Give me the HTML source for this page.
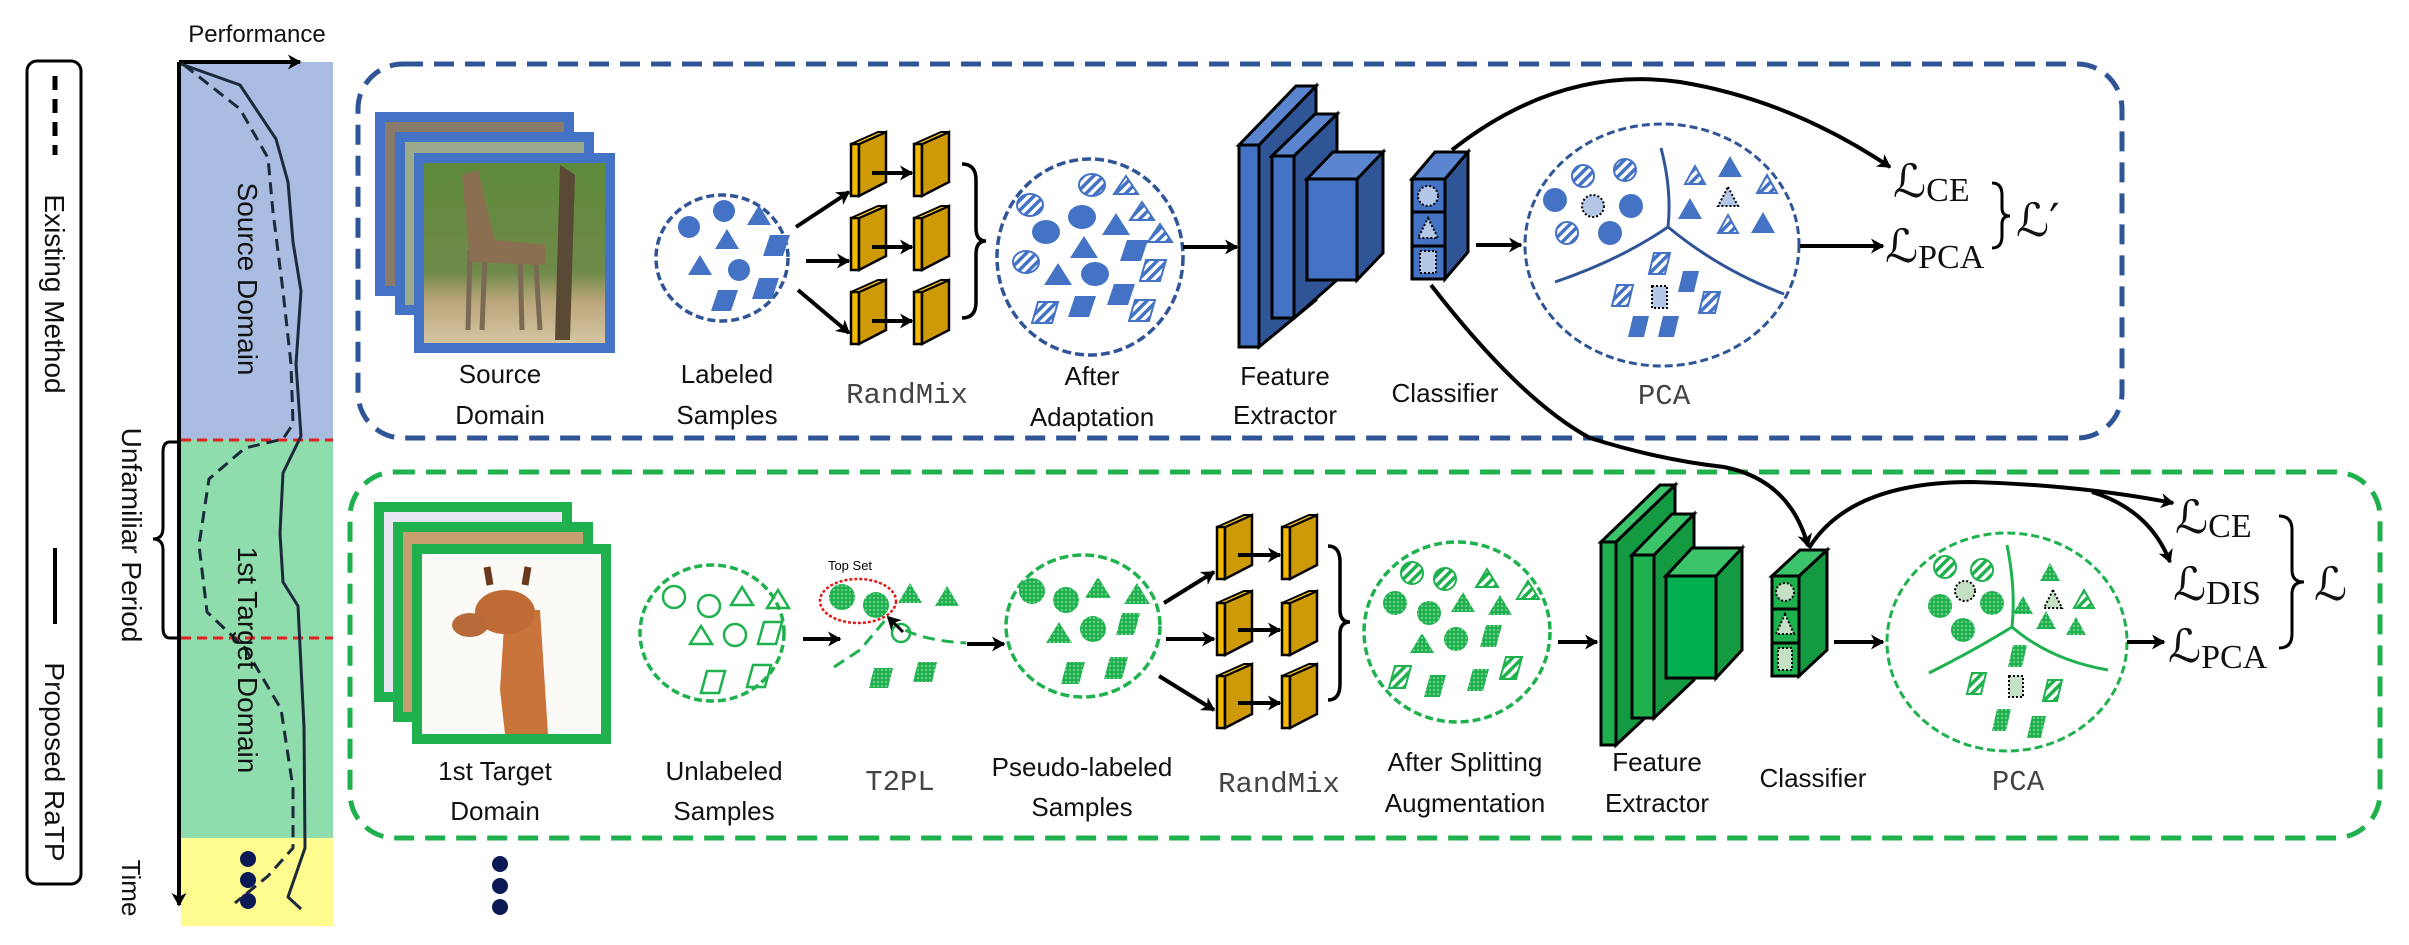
<!DOCTYPE html>
<html><head><meta charset="utf-8"><style>
html,body{margin:0;padding:0;background:#fff;}
svg{display:block;}
.t{font-family:"Liberation Sans",sans-serif;font-size:26px;fill:#111;text-anchor:middle;}
.m{font-family:"Liberation Mono",monospace;font-size:29px;fill:#444;text-anchor:middle;}
.L{font-family:"DejaVu Serif","Liberation Serif",serif;font-size:46px;fill:#111;}
.s{font-family:"Liberation Serif",serif;font-size:34px;}
</style></head><body>
<svg width="2409" height="945" viewBox="0 0 2409 945" xmlns="http://www.w3.org/2000/svg">
<defs>
<marker id="ar" viewBox="0 0 12 12" refX="10" refY="6" markerWidth="9" markerHeight="9" markerUnits="userSpaceOnUse" orient="auto" style="overflow:visible">
<path d="M-6,-4 L12,6 L-6,16 L-1,6 z" fill="#000"/></marker>
<pattern id="hb" width="7" height="7" patternUnits="userSpaceOnUse" patternTransform="rotate(45)"><rect width="7" height="7" fill="#fff"/><rect width="3.5" height="7" fill="#4472c4"/></pattern>
<pattern id="hg" width="7" height="7" patternUnits="userSpaceOnUse" patternTransform="rotate(45)"><rect width="7" height="7" fill="#fff"/><rect width="3.5" height="7" fill="#1fb14e"/></pattern>
<pattern id="dg" width="4" height="4" patternUnits="userSpaceOnUse"><rect width="4" height="4" fill="#1fb14e"/><circle cx="2" cy="2" r="0.9" fill="#9fe0b0"/></pattern>
<linearGradient id="ph" x1="0" y1="0" x2="0" y2="1"><stop offset="0" stop-color="#5d8a3a"/><stop offset="0.6" stop-color="#6f8a4a"/><stop offset="0.75" stop-color="#b9a57a"/><stop offset="1" stop-color="#d8c9a6"/></linearGradient>
<g id="yb"><polygon points="0,12 8,12 8,64 0,64" fill="#f5b800" stroke="#000" stroke-width="2.5"/><polygon points="8,12 35,0 35,50 8,64" fill="#cf9a08" stroke="#000" stroke-width="2.5"/><polygon points="0,12 27,0 35,0 8,12" fill="#f5c030" stroke="#000" stroke-width="2"/></g>
</defs>

<!-- legend -->
<rect x="27" y="61" width="54" height="823" rx="10" fill="none" stroke="#000" stroke-width="3"/>
<line x1="55" y1="76" x2="55" y2="155" stroke="#000" stroke-width="5" stroke-dasharray="14 9"/>
<line x1="55" y1="548" x2="55" y2="624" stroke="#000" stroke-width="4"/>
<text class="t" transform="translate(45,294) rotate(90)" style="font-size:28px">Existing Method</text>
<text class="t" transform="translate(45,762) rotate(90)" style="font-size:28px">Proposed RaTP</text>

<!-- timeline -->
<rect x="181" y="62" width="152" height="378" fill="#a9bde3"/>
<rect x="181" y="440" width="152" height="398" fill="#8fdcad"/>
<rect x="181" y="838" width="152" height="88" fill="#fffb8f"/>
<line x1="181" y1="440" x2="333" y2="440" stroke="#e52020" stroke-width="3" stroke-dasharray="10 6"/>
<line x1="181" y1="638" x2="333" y2="638" stroke="#e52020" stroke-width="3" stroke-dasharray="10 6"/>
<text class="t" x="257" y="42" style="font-size:24px">Performance</text>
<line x1="179" y1="62" x2="179" y2="905" stroke="#000" stroke-width="4" marker-end="url(#ar)"/>
<line x1="179" y1="62" x2="300" y2="62" stroke="#000" stroke-width="4" marker-end="url(#ar)"/>
<polyline points="181,64 240,85 276,139 288,182 293,242 301,291 296,364 301,436 283,473 280,533 283,582 298,606 304,727 305,848 288,897 301,909" fill="none" stroke="#1a2a3a" stroke-width="3" stroke-linejoin="round"/>
<polyline points="184,65 240,109 268,158 273,212 283,291 291,364 293,424 283,439 245,448 209,479 199,545 207,612 245,648 281,709 293,788 293,848 268,876 235,903" fill="none" stroke="#1a2a3a" stroke-width="3" stroke-dasharray="12 7" stroke-linejoin="round"/>
<text class="t" transform="translate(238,279) rotate(90)" style="font-size:28px">Source Domain</text>
<text class="t" transform="translate(238,660) rotate(90)" style="font-size:28px">1st Target Domain</text>
<text class="t" transform="translate(122,535) rotate(90)" style="font-size:28px">Unfamiliar Period</text>
<text class="t" transform="translate(122,888) rotate(90)" style="font-size:26px">Time</text>
<path d="M179,442 L170,442 Q163,442 163,452 L163,528 Q163,539 153,539 Q163,539 163,550 L163,628 Q163,638 170,638 L179,638" fill="none" stroke="#000" stroke-width="3"/>
<g fill="#0b1a55"><circle cx="248" cy="859" r="8"/><circle cx="248" cy="880" r="8"/><circle cx="248" cy="901" r="8"/>
<circle cx="500" cy="864" r="8"/><circle cx="500" cy="886" r="8"/><circle cx="500" cy="907" r="8"/></g>

<!-- boxes -->
<rect x="358" y="64" width="1764" height="374" rx="45" fill="none" stroke="#2f5597" stroke-width="5" stroke-dasharray="20 11"/>
<rect x="350" y="472" width="2030" height="366" rx="45" fill="none" stroke="#1fb14e" stroke-width="5" stroke-dasharray="20 11"/>

<!-- source images -->
<rect x="380" y="117" width="189" height="174" fill="#8a7a6a" stroke="#4472c4" stroke-width="10"/>
<rect x="400" y="137" width="189" height="173" fill="#9aaa8a" stroke="#4472c4" stroke-width="10"/>
<rect x="419" y="158" width="191" height="190" fill="url(#ph)" stroke="#4472c4" stroke-width="10"/>
<path d="M470,250 L468,330 M485,255 L482,330 M520,255 L522,330 M535,250 L540,330" stroke="#7a6a55" stroke-width="5"/>
<path d="M462,175 L478,170 L495,240 L545,245 L545,265 L470,262 Z" fill="#8a7050"/>
<path d="M560,165 L575,175 L570,340 L555,340 Z" fill="#5a4a35"/>
<text class="t" x="500" y="383">Source</text><text class="t" x="500" y="424">Domain</text>

<!-- target images -->
<rect x="379" y="507" width="188" height="190" fill="#e8e4f2" stroke="#1fb14e" stroke-width="10"/>
<rect x="398" y="527" width="190" height="190" fill="#c8a070" stroke="#1fb14e" stroke-width="10"/>
<rect x="417" y="549" width="189" height="190" fill="#fbfaf7" stroke="#1fb14e" stroke-width="10"/>
<path d="M500,690 L505,610 L540,610 L548,734 L505,734 Z" fill="#c8743a"/>
<ellipse cx="505" cy="612" rx="30" ry="22" fill="#c06a35"/>
<ellipse cx="470" cy="625" rx="18" ry="12" fill="#b86a3a"/>
<path d="M490,585 l-3,-18 M525,585 l3,-18" stroke="#6a3a20" stroke-width="7"/>
<text class="t" x="495" y="780">1st Target</text><text class="t" x="495" y="820">Domain</text>

<!-- labeled samples -->
<ellipse cx="722" cy="258" rx="66" ry="63" fill="none" stroke="#2f5597" stroke-width="3.5" stroke-dasharray="8 4"/>
<g fill="#4472c4">
<circle cx="689" cy="227" r="11"/><circle cx="724" cy="211" r="11"/><circle cx="739" cy="270" r="11"/>
<polygon points="759,205 771,225 747,225"/><polygon points="727,229 739,249 715,249"/><polygon points="700,255 712,275 688,275"/>
<polygon points="770,235 790,235 783,256 763,256"/><polygon points="759,278 779,278 772,299 752,299"/><polygon points="718,290 738,290 731,311 711,311"/></g>
<text class="t" x="727" y="383">Labeled</text><text class="t" x="727" y="424">Samples</text>

<!-- blue randmix -->
<g stroke="#000" stroke-width="4" fill="none">
<line x1="796" y1="227" x2="849" y2="192" marker-end="url(#ar)"/>
<line x1="806" y1="261" x2="849" y2="261" marker-end="url(#ar)"/>
<line x1="798" y1="290" x2="849" y2="333" marker-end="url(#ar)"/>
</g>
<use href="#yb" x="851" y="132"/><use href="#yb" x="851" y="206"/><use href="#yb" x="851" y="280"/>
<use href="#yb" x="914" y="132"/><use href="#yb" x="914" y="206"/><use href="#yb" x="914" y="280"/>
<g stroke="#000" stroke-width="4"><line x1="872" y1="173" x2="912" y2="173" marker-end="url(#ar)"/><line x1="872" y1="247" x2="912" y2="247" marker-end="url(#ar)"/><line x1="872" y1="321" x2="912" y2="321" marker-end="url(#ar)"/></g>
<path d="M962,164 Q976,164 976,180 L976,228 Q976,241 986,241 Q976,241 976,254 L976,302 Q976,318 962,318" fill="none" stroke="#000" stroke-width="3.5"/>
<text class="m" x="907" y="403">RandMix</text>

<!-- after adaptation -->
<ellipse cx="1090" cy="257" rx="93" ry="98" fill="none" stroke="#2f5597" stroke-width="3.5" stroke-dasharray="9 4"/>
<g stroke="#4472c4" stroke-width="2">
<ellipse cx="1030" cy="205" rx="13" ry="11" fill="url(#hb)"/><ellipse cx="1092" cy="185" rx="13" ry="11" fill="url(#hb)"/><ellipse cx="1026" cy="262" rx="13" ry="11" fill="url(#hb)"/>
<polygon points="1126,176 1138,194 1114,194" fill="url(#hb)"/><polygon points="1142,202 1154,220 1130,220" fill="url(#hb)"/><polygon points="1160,224 1172,242 1148,242" fill="url(#hb)"/>
<polygon points="1146,260 1166,260 1160,281 1140,281" fill="url(#hb)"/><polygon points="1038,302 1058,302 1052,323 1032,323" fill="url(#hb)"/><polygon points="1135,300 1155,300 1149,321 1129,321" fill="url(#hb)"/>
</g>
<g fill="#4472c4">
<ellipse cx="1046" cy="232" rx="14" ry="12"/><ellipse cx="1082" cy="217" rx="14" ry="12"/><ellipse cx="1095" cy="274" rx="14" ry="12"/>
<polygon points="1116,213 1130,235 1102,235"/><polygon points="1084,236 1098,258 1070,258"/><polygon points="1058,263 1072,285 1044,285"/>
<polygon points="1127,240 1148,240 1141,261 1120,261"/><polygon points="1114,284 1135,284 1128,305 1107,305"/><polygon points="1075,296 1096,296 1089,317 1068,317"/></g>
<text class="t" x="1092" y="385">After</text><text class="t" x="1092" y="426">Adaptation</text>
<line x1="1183" y1="247" x2="1237" y2="247" stroke="#000" stroke-width="4" marker-end="url(#ar)"/>

<!-- blue FE -->
<g stroke="#000" stroke-width="3">
<polygon points="1259,145 1316,86 1316,300 1259,347" fill="#2f5597"/>
<polygon points="1239,145 1296,86 1316,86 1259,145" fill="#5b86cf"/>
<rect x="1239" y="145" width="20" height="202" fill="#4472c4"/>
<polygon points="1294,156 1337,114 1337,280 1294,318" fill="#2f5597"/>
<polygon points="1272,156 1315,114 1337,114 1294,156" fill="#5b86cf"/>
<rect x="1272" y="156" width="22" height="162" fill="#4472c4"/>
<polygon points="1357,179 1383,152 1383,253 1357,280" fill="#2f5597"/>
<polygon points="1307,179 1333,152 1383,152 1357,179" fill="#5b86cf"/>
<rect x="1307" y="179" width="50" height="101" fill="#4472c4"/>
</g>
<text class="t" x="1285" y="385">Feature</text><text class="t" x="1285" y="424">Extractor</text>

<!-- blue classifier -->
<g stroke="#000" stroke-width="3">
<polygon points="1445,179 1468,152 1468,252 1445,279" fill="#2f5597"/>
<polygon points="1412,179 1435,152 1468,152 1445,179" fill="#5b86cf"/>
<rect x="1412" y="179" width="33" height="100" fill="#4472c4"/>
<line x1="1412" y1="212" x2="1445" y2="212"/><line x1="1412" y1="246" x2="1445" y2="246"/>
</g>
<g fill="#b4c7e7" stroke="#000" stroke-width="2" stroke-dasharray="2 2"><circle cx="1428" cy="196" r="10"/><polygon points="1428,218 1438,238 1418,238"/><rect x="1420" y="251" width="16" height="22"/></g>
<text class="t" x="1445" y="402">Classifier</text>

<!-- blue PCA -->
<ellipse cx="1662" cy="245" rx="137" ry="121" fill="none" stroke="#2f5597" stroke-width="3" stroke-dasharray="8 4"/>
<path d="M1661,148 Q1672,190 1668,227 Q1620,260 1555,282 M1668,227 Q1720,270 1784,294" fill="none" stroke="#2f5597" stroke-width="3"/>
<g stroke="#4472c4" stroke-width="2">
<circle cx="1583" cy="176" r="11" fill="url(#hb)"/><circle cx="1625" cy="170" r="11" fill="url(#hb)"/><circle cx="1567" cy="233" r="11" fill="url(#hb)"/>
<polygon points="1695,166 1705,184 1685,184" fill="url(#hb)"/><polygon points="1767,175 1777,193 1757,193" fill="url(#hb)"/><polygon points="1728,215 1738,233 1718,233" fill="url(#hb)"/>
<polygon points="1654,253 1670,253 1665,274 1649,274" fill="url(#hb)"/><polygon points="1617,285 1633,285 1628,306 1612,306" fill="url(#hb)"/><polygon points="1704,292 1720,292 1715,313 1699,313" fill="url(#hb)"/>
</g>
<g fill="#4472c4">
<circle cx="1555" cy="200" r="12"/><circle cx="1631" cy="206" r="12"/><circle cx="1610" cy="233" r="12"/>
<polygon points="1730,156 1742,177 1718,177"/><polygon points="1690,198 1702,219 1678,219"/><polygon points="1763,212 1775,233 1751,233"/>
<polygon points="1683,271 1699,271 1694,292 1678,292"/><polygon points="1633,316 1649,316 1644,337 1628,337"/><polygon points="1663,316 1679,316 1674,337 1658,337"/></g>
<g fill="#b4c7e7" stroke="#000" stroke-width="2" stroke-dasharray="2 2"><circle cx="1593" cy="206" r="11"/><polygon points="1728,187 1738,206 1718,206"/><rect x="1652" y="286" width="15" height="22"/></g>
<text class="m" x="1664" y="404">PCA</text>
<line x1="1476" y1="245" x2="1521" y2="245" stroke="#000" stroke-width="4" marker-end="url(#ar)"/>
<line x1="1800" y1="246" x2="1883" y2="246" stroke="#000" stroke-width="4" marker-end="url(#ar)"/>
<path d="M1452,150 Q1560,65 1680,82 Q1790,100 1890,167" fill="none" stroke="#000" stroke-width="4" marker-end="url(#ar)"/>
<path d="M1431,285 Q1520,400 1590,438 Q1660,460 1724,467 Q1790,480 1808,546" fill="none" stroke="#000" stroke-width="4" marker-end="url(#ar)"/>
<text class="L" x="1893" y="197">ℒ<tspan class="s" dy="4">CE</tspan></text>
<text class="L" x="1885" y="262">ℒ<tspan class="s" dy="6">PCA</tspan></text>
<path d="M1992,183 Q2002,183 2002,195 L2002,208 Q2002,216 2010,216 Q2002,216 2002,224 L2002,236 Q2002,248 1992,248" fill="none" stroke="#000" stroke-width="3"/>
<text class="L" x="2016" y="236">ℒ′</text>

<!-- green row -->
<ellipse cx="712" cy="633" rx="72" ry="68" fill="none" stroke="#1fb14e" stroke-width="3.5" stroke-dasharray="8 4"/>
<g fill="none" stroke="#1fb14e" stroke-width="2.5">
<circle cx="674" cy="597" r="11"/><circle cx="709" cy="606" r="11"/><circle cx="735" cy="635" r="11"/>
<polygon points="742,587 753,605 731,605"/><polygon points="778,590 789,608 767,608"/><polygon points="701,626 712,644 690,644"/>
<polygon points="764,622 782,622 776,644 758,644"/><polygon points="707,671 725,671 719,693 701,693"/><polygon points="753,665 771,665 765,687 747,687"/></g>
<text class="t" x="724" y="780">Unlabeled</text><text class="t" x="724" y="820">Samples</text>
<line x1="803" y1="639" x2="840" y2="639" stroke="#000" stroke-width="4" marker-end="url(#ar)"/>

<!-- T2PL -->
<text x="850" y="570" style="font-family:'Liberation Sans',sans-serif;font-size:13px" text-anchor="middle">Top Set</text>
<path d="M834,667 L860,650 L887,618 Q910,640 966,643" fill="none" stroke="#1fb14e" stroke-width="3" stroke-dasharray="12 7"/>
<g fill="url(#dg)"><circle cx="842" cy="597" r="13"/><circle cx="876" cy="605" r="13"/>
<polygon points="910,583 922,603 898,603"/><polygon points="947,586 959,606 935,606"/>
<polygon points="874,668 893,668 888,688 869,688"/><polygon points="918,662 937,662 932,682 913,682"/></g>
<circle cx="901" cy="633" r="9" fill="none" stroke="#1fb14e" stroke-width="2.5"/>
<ellipse cx="858" cy="601" rx="38" ry="22" fill="none" stroke="#e01818" stroke-width="2.5" stroke-dasharray="3 2"/>
<line x1="903" y1="632" x2="888" y2="617" stroke="#000" stroke-width="3" marker-end="url(#ar)"/>
<text class="m" x="900" y="790">T2PL</text>
<line x1="967" y1="644" x2="1004" y2="644" stroke="#000" stroke-width="4" marker-end="url(#ar)"/>

<!-- pseudo labeled -->
<ellipse cx="1083" cy="626" rx="77" ry="71" fill="none" stroke="#1fb14e" stroke-width="3.5" stroke-dasharray="9 4"/>
<g fill="url(#dg)">
<circle cx="1032" cy="591" r="13"/><circle cx="1066" cy="600" r="13"/><circle cx="1093" cy="629" r="13"/>
<polygon points="1098,577 1111,598 1085,598"/><polygon points="1137,583 1150,604 1124,604"/><polygon points="1059,622 1072,643 1046,643"/>
<polygon points="1122,613 1140,613 1134,635 1116,635"/><polygon points="1067,662 1085,662 1079,684 1061,684"/><polygon points="1110,657 1128,657 1122,679 1104,679"/></g>
<text class="t" x="1082" y="776">Pseudo-labeled</text><text class="t" x="1082" y="816">Samples</text>

<!-- green randmix -->
<g stroke="#000" stroke-width="4">
<line x1="1164" y1="603" x2="1214" y2="572" marker-end="url(#ar)"/>
<line x1="1166" y1="639" x2="1214" y2="639" marker-end="url(#ar)"/>
<line x1="1159" y1="676" x2="1214" y2="710" marker-end="url(#ar)"/></g>
<use href="#yb" x="1217" y="515"/><use href="#yb" x="1217" y="591"/><use href="#yb" x="1217" y="664"/>
<use href="#yb" x="1282" y="515"/><use href="#yb" x="1282" y="591"/><use href="#yb" x="1282" y="664"/>
<g stroke="#000" stroke-width="4"><line x1="1238" y1="555" x2="1280" y2="555" marker-end="url(#ar)"/><line x1="1238" y1="630" x2="1280" y2="630" marker-end="url(#ar)"/><line x1="1238" y1="703" x2="1280" y2="703" marker-end="url(#ar)"/></g>
<path d="M1328,546 Q1340,546 1340,562 L1340,610 Q1340,622 1350,622 Q1340,622 1340,634 L1340,684 Q1340,700 1328,700" fill="none" stroke="#000" stroke-width="3.5"/>
<text class="m" x="1279" y="792">RandMix</text>

<!-- after splitting -->
<ellipse cx="1457" cy="632" rx="93" ry="90" fill="none" stroke="#1fb14e" stroke-width="3.5" stroke-dasharray="8 4"/>
<g stroke="#1fb14e" stroke-width="2">
<circle cx="1412" cy="573" r="11" fill="url(#hg)"/><circle cx="1445" cy="579" r="11" fill="url(#hg)"/>
<polygon points="1487,569 1498,587 1476,587" fill="url(#hg)"/><polygon points="1528,581 1539,599 1517,599" fill="url(#hg)"/>
<polygon points="1395,666 1411,666 1405,688 1389,688" fill="url(#hg)"/><polygon points="1506,657 1522,657 1516,679 1500,679" fill="url(#hg)"/></g>
<g fill="url(#dg)">
<circle cx="1395" cy="603" r="12"/><circle cx="1429" cy="613" r="12"/><circle cx="1456" cy="639" r="12"/>
<polygon points="1463,592 1475,612 1451,612"/><polygon points="1500,595 1512,615 1488,615"/><polygon points="1422,633 1434,653 1410,653"/>
<polygon points="1486,625 1502,625 1496,647 1480,647"/><polygon points="1430,675 1446,675 1440,697 1424,697"/><polygon points="1473,669 1489,669 1483,691 1467,691"/></g>
<text class="t" x="1465" y="771">After Splitting</text><text class="t" x="1465" y="812">Augmentation</text>
<line x1="1558" y1="642" x2="1597" y2="642" stroke="#000" stroke-width="4" marker-end="url(#ar)"/>

<!-- green FE -->
<g stroke="#000" stroke-width="3">
<polygon points="1616,542 1675,485 1675,690 1616,745" fill="#149a40"/>
<polygon points="1601,542 1660,485 1675,485 1616,542" fill="#3cc46a"/>
<rect x="1601" y="542" width="15" height="203" fill="#1fb14e"/>
<polygon points="1654,555 1694,514 1694,680 1654,718" fill="#149a40"/>
<polygon points="1632,555 1672,514 1694,514 1654,555" fill="#3cc46a"/>
<rect x="1632" y="555" width="22" height="163" fill="#1fb14e"/>
<polygon points="1716,576 1742,548 1742,650 1716,678" fill="#149a40"/>
<polygon points="1666,576 1692,548 1742,548 1716,576" fill="#3cc46a"/>
<rect x="1666" y="576" width="50" height="102" fill="#00b050"/>
</g>
<text class="t" x="1657" y="771">Feature</text><text class="t" x="1657" y="812">Extractor</text>

<!-- green classifier -->
<g stroke="#000" stroke-width="3">
<polygon points="1799,576 1827,550 1827,650 1799,676" fill="#149a40"/>
<polygon points="1772,576 1800,550 1827,550 1799,576" fill="#3cc46a"/>
<rect x="1772" y="576" width="27" height="100" fill="#1fb14e"/>
<line x1="1772" y1="609" x2="1799" y2="609"/><line x1="1772" y1="643" x2="1799" y2="643"/></g>
<g fill="#c5e0c5" stroke="#000" stroke-width="2" stroke-dasharray="2 2"><circle cx="1785" cy="592" r="9"/><polygon points="1785,614 1794,634 1776,634"/><rect x="1778" y="648" width="14" height="22"/></g>
<text class="t" x="1813" y="787">Classifier</text>
<line x1="1834" y1="642" x2="1883" y2="642" stroke="#000" stroke-width="4" marker-end="url(#ar)"/>

<!-- green PCA -->
<ellipse cx="2007" cy="642" rx="120" ry="109" fill="none" stroke="#1fb14e" stroke-width="3" stroke-dasharray="8 4"/>
<path d="M2007,545 Q2016,590 2012,627 Q1975,650 1929,673 M2012,627 Q2050,660 2108,670" fill="none" stroke="#1fb14e" stroke-width="3"/>
<g stroke="#1fb14e" stroke-width="2">
<circle cx="1945" cy="567" r="11" fill="url(#hg)"/><circle cx="1982" cy="570" r="11" fill="url(#hg)"/>
<polygon points="2084,590 2094,608 2074,608" fill="url(#hg)"/>
<polygon points="1972,673 1986,673 1981,694 1967,694" fill="url(#hg)"/><polygon points="2048,680 2062,680 2057,701 2043,701" fill="url(#hg)"/></g>
<g fill="url(#dg)">
<circle cx="1940" cy="606" r="12"/><circle cx="1992" cy="603" r="12"/><circle cx="1963" cy="630" r="12"/>
<polygon points="2050,563 2060,581 2040,581"/><polygon points="2023,596 2033,614 2013,614"/><polygon points="2046,611 2056,629 2036,629"/><polygon points="2076,617 2086,635 2066,635"/>
<polygon points="2013,645 2027,645 2022,667 2008,667"/><polygon points="1997,709 2011,709 2006,731 1992,731"/><polygon points="2032,716 2046,716 2041,738 2027,738"/></g>
<g fill="#c5e0c5" stroke="#000" stroke-width="2" stroke-dasharray="2 2"><circle cx="1965" cy="591" r="10"/><polygon points="2053,590 2062,608 2044,608"/><rect x="2009" y="676" width="14" height="21"/></g>
<text class="m" x="2018" y="790">PCA</text>
<line x1="2127" y1="642" x2="2164" y2="642" stroke="#000" stroke-width="4" marker-end="url(#ar)"/>
<path d="M1809,548 Q1850,482 1972,482 Q2080,485 2173,503" fill="none" stroke="#000" stroke-width="4" marker-end="url(#ar)"/>
<path d="M2092,492 Q2150,510 2170,562" fill="none" stroke="#000" stroke-width="4" marker-end="url(#ar)"/>
<text class="L" x="2175" y="533">ℒ<tspan class="s" dy="4">CE</tspan></text>
<text class="L" x="2173" y="600">ℒ<tspan class="s" dy="4">DIS</tspan></text>
<text class="L" x="2168" y="662">ℒ<tspan class="s" dy="6">PCA</tspan></text>
<path d="M2279,516 Q2292,516 2292,530 L2292,570 Q2292,582 2304,582 Q2292,582 2292,594 L2292,634 Q2292,648 2279,648" fill="none" stroke="#000" stroke-width="3"/>
<text class="L" x="2314" y="600">ℒ</text>
</svg>
</body></html>
